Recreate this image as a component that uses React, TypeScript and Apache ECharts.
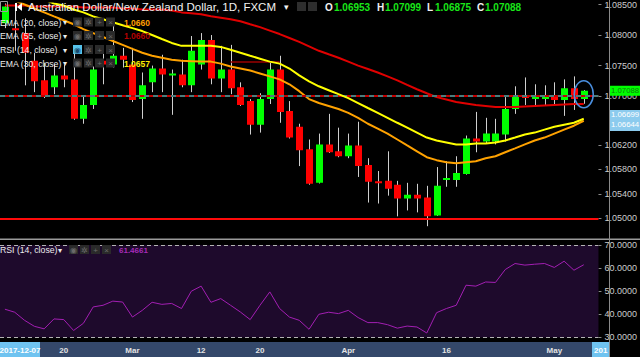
import React, { useEffect, useRef } from "react";
import * as echarts from "echarts";

const FONT = '"Liberation Sans", Arial, sans-serif';

const dates = [
  "2018-02-12", "2018-02-13", "2018-02-14", "2018-02-15", "2018-02-16", "2018-02-19", "2018-02-20", "2018-02-21", "2018-02-22", "2018-02-23",
  "2018-02-26", "2018-02-27", "2018-02-28", "2018-03-01", "2018-03-02", "2018-03-05", "2018-03-06", "2018-03-07", "2018-03-08", "2018-03-09",
  "2018-03-12", "2018-03-13", "2018-03-14", "2018-03-15", "2018-03-16", "2018-03-19", "2018-03-20", "2018-03-21", "2018-03-22", "2018-03-23",
  "2018-03-26", "2018-03-27", "2018-03-28", "2018-03-29", "2018-03-30", "2018-04-02", "2018-04-03", "2018-04-04", "2018-04-05", "2018-04-06",
  "2018-04-09", "2018-04-10", "2018-04-11", "2018-04-12", "2018-04-13", "2018-04-16", "2018-04-17", "2018-04-18", "2018-04-19", "2018-04-20",
  "2018-04-23", "2018-04-24", "2018-04-25", "2018-04-26", "2018-04-27", "2018-04-30", "2018-05-01", "2018-05-02", "2018-05-03", "2018-05-04",
  "",
];

const open = [
  1.08194, 1.08113, 1.08032, 1.07581, 1.07258, 1.07145, 1.07339, 1.07274, 1.06629, 1.06855,
  1.07581, 1.07516, 1.07661, 1.07516, 1.06952, 1.07226, 1.07452, 1.07363, 1.07355, 1.07177,
  1.07516, 1.07919, 1.0729, 1.07435, 1.07145, 1.06919, 1.06532, 1.06952, 1.07435, 1.06758,
  1.065, 1.06129, 1.05581, 1.0621, 1.06097, 1.06016, 1.06193, 1.05871, 1.05605, 1.05613,
  1.05548, 1.05323, 1.05387, 1.05339, 1.05048, 1.05629, 1.05629, 1.05726, 1.06306, 1.06258,
  1.06258, 1.06371, 1.0679, 1.07016, 1.06979, 1.06952, 1.07016, 1.06935, 1.07129, 1.06953,
];
const close = [
  1.08468, 1.08097, 1.0771, 1.07242, 1.06984, 1.07339, 1.07274, 1.06629, 1.06855, 1.07435,
  1.07516, 1.07661, 1.07597, 1.06935, 1.07177, 1.07452, 1.07355, 1.07371, 1.07177, 1.07742,
  1.07919, 1.0729, 1.07435, 1.07129, 1.06855, 1.06532, 1.06952, 1.07435, 1.06742, 1.06322,
  1.06113, 1.05565, 1.0621, 1.06081, 1.06016, 1.06193, 1.05855, 1.05597, 1.05597, 1.05484,
  1.05323, 1.05387, 1.05323, 1.05032, 1.05532, 1.05661, 1.05742, 1.06306, 1.06258, 1.06387,
  1.06387, 1.0679, 1.07016, 1.06968, 1.06984, 1.07016, 1.06935, 1.07129, 1.06952, 1.07088,
];
const low = [
  1.08113, 1.07742, 1.07177, 1.07065, 1.06968, 1.07032, 1.07145, 1.06613, 1.06548, 1.0679,
  1.07194, 1.07468, 1.07468, 1.06903, 1.06629, 1.07065, 1.07065, 1.06694, 1.07145, 1.07065,
  1.07435, 1.07194, 1.07065, 1.07032, 1.0684, 1.06371, 1.06403, 1.06871, 1.06564, 1.06306,
  1.05855, 1.0555, 1.0557, 1.0607, 1.06, 1.05984, 1.05677, 1.05258, 1.05242, 1.05371,
  1.05032, 1.05129, 1.05097, 1.04871, 1.0504, 1.05516, 1.05516, 1.05715, 1.06081, 1.06226,
  1.0621, 1.06258, 1.0671, 1.06855, 1.06823, 1.06855, 1.06871, 1.06677, 1.06774, 1.06875,
];
const high = [
  1.0853, 1.08435, 1.08274, 1.0771, 1.07548, 1.07516, 1.07516, 1.0771, 1.07016, 1.07484,
  1.07823, 1.08274, 1.0779, 1.0779, 1.07387, 1.075, 1.07677, 1.07435, 1.07597, 1.07984,
  1.08032, 1.08, 1.07823, 1.07839, 1.07226, 1.06952, 1.07048, 1.07548, 1.07661, 1.06919,
  1.06548, 1.0629, 1.06387, 1.0671, 1.06484, 1.06387, 1.06581, 1.05984, 1.05774, 1.06097,
  1.05613, 1.05581, 1.05565, 1.05532, 1.05839, 1.05935, 1.06016, 1.06355, 1.06742, 1.06645,
  1.06629, 1.06984, 1.07161, 1.07306, 1.07194, 1.07177, 1.07226, 1.07274, 1.07323, 1.07099,
];

const emaRed = [
  1.08484, 1.08484, 1.08484, 1.08468, 1.08468, 1.08468, 1.08468, 1.08468, 1.08451, 1.08451,
  1.08451, 1.08451, 1.08435, 1.08435, 1.08419, 1.08419, 1.08419, 1.08403, 1.08371, 1.08355,
  1.08339, 1.08306, 1.08282, 1.08258, 1.08226, 1.08177, 1.08129, 1.08073, 1.08016, 1.07952,
  1.07887, 1.07815, 1.07742, 1.07685, 1.07629, 1.07565, 1.075, 1.07444, 1.07387, 1.07323,
  1.07258, 1.07185, 1.07113, 1.07048, 1.06984, 1.06944, 1.06903, 1.06879, 1.06855, 1.06839,
  1.06823, 1.06823, 1.06823, 1.06831, 1.06839, 1.06847, 1.06855, 1.06863, 1.06871, 1.06871,
];
const emaYellow = [
  1.08871, 1.0879, 1.0871, 1.08645, 1.08581, 1.08516, 1.08484, 1.08419, 1.08371, 1.08306,
  1.08258, 1.0821, 1.08161, 1.08113, 1.08065, 1.08, 1.07935, 1.07871, 1.07823, 1.07823,
  1.07823, 1.07823, 1.07806, 1.07758, 1.0771, 1.07661, 1.07613, 1.07565, 1.07532, 1.07452,
  1.07339, 1.07242, 1.07161, 1.07097, 1.07032, 1.06968, 1.06887, 1.06806, 1.06726, 1.06645,
  1.06564, 1.06484, 1.06403, 1.06322, 1.06274, 1.06242, 1.0621, 1.0621, 1.06226, 1.06226,
  1.06242, 1.06274, 1.06322, 1.06371, 1.06403, 1.06452, 1.065, 1.06532, 1.06564, 1.06629,
];
const emaOrange = [
  1.08629, 1.08565, 1.085, 1.08435, 1.08371, 1.08306, 1.08242, 1.08177, 1.08097, 1.08032,
  1.07968, 1.07903, 1.07839, 1.07774, 1.0771, 1.07661, 1.07629, 1.07597, 1.07581, 1.07573,
  1.07565, 1.07565, 1.07532, 1.07484, 1.07452, 1.07419, 1.07371, 1.07323, 1.07274, 1.07194,
  1.07081, 1.06952, 1.06887, 1.06839, 1.0679, 1.06726, 1.06645, 1.06548, 1.06468, 1.06387,
  1.0629, 1.06193, 1.06097, 1.06, 1.05952, 1.05919, 1.05903, 1.05919, 1.05935, 1.05984,
  1.06016, 1.06081, 1.06145, 1.0621, 1.06274, 1.06322, 1.06387, 1.06452, 1.06516, 1.06597,
];

const rsi = [
  42.2, 40.9, 37.4, 34.8, 33.7, 38.0, 37.7, 33.0, 36.1, 43.2,
  43.9, 45.7, 45.3, 38.8, 41.7, 45.2, 44.3, 44.7, 42.5, 50.0,
  52.2, 45.2, 46.8, 43.9, 41.0, 37.7, 43.9, 49.7, 42.5, 38.8,
  37.4, 33.5, 40.0, 40.9, 40.3, 41.7, 38.6, 36.4, 36.4, 35.5,
  34.0, 34.9, 34.5, 31.9, 40.7, 42.5, 43.9, 52.6, 52.2, 54.0,
  53.8, 59.4, 62.0, 61.3, 61.7, 62.0, 60.3, 63.0, 59.1, 61.4661,
];

const priceTicks = [1.05, 1.054, 1.058, 1.062, 1.07, 1.075, 1.08, 1.085];
const rsiTicks = [30, 40, 50, 60, 70];
const timeTickIndex = [6, 13, 20, 26, 35, 45, 56];
const timeTickText = ["20", "Mar", "12", "20", "Apr", "16", "May"];
const redLevels = [1.06699, 1.05065];
const cyanLevel = 1.07274;
const boxLevel = 1.07565;
const lastClose = 1.07088;
const tagLevels = [1.06699, 1.06644];
const emaLegend = ["1.0660", "1.0660", "1.0657"];

const candleRows = open.map((o, i) => [i, o, close[i], low[i], high[i]]);

function renderCandle(params: any, api: any) {
  const i = api.value(0);
  const o = api.value(1);
  const c = api.value(2);
  const l = api.value(3);
  const h = api.value(4);
  const pO = api.coord([i, o]);
  const pC = api.coord([i, c]);
  const pL = api.coord([i, l]);
  const pH = api.coord([i, h]);
  const cx = Math.round(pO[0]);
  const up = c >= o;
  const top = Math.min(pO[1], pC[1]);
  const bh = Math.max(2, Math.abs(pO[1] - pC[1]));
  return {
    type: "group",
    children: [
      {
        type: "line",
        shape: { x1: cx + 0.5, y1: pH[1], x2: cx + 0.5, y2: pL[1] },
        style: { stroke: "#cfcfcf", lineWidth: 1 },
      },
      {
        type: "rect",
        shape: { x: cx - 3, y: top, width: 7, height: bh },
        style: { fill: up ? "#00ff00" : "#ff0000" },
      },
    ],
  };
}

function txt(text: string, x: number, y: number, fill: string, font: string, align = "left", z = 10) {
  return {
    type: "text",
    z,
    style: { text, x, y, fill, font, textAlign: align, textVerticalAlign: "middle", align, verticalAlign: "middle" },
  };
}

function icons(x0: number, y: number, highlight: boolean) {
  const glyphs = ["◉", "✲", "+", "×"];
  const out: any[] = [];
  glyphs.forEach((g, k) => {
    const x = x0 + k * 11;
    out.push({
      type: "rect",
      z: 10,
      shape: { x, y: y - 5, width: 9, height: 9 },
      style: { fill: k === 0 && highlight ? "#56c2ea" : "#2a2a2a" },
    });
    out.push(txt(g, x + 4.5, y, k === 0 && highlight ? "#1a4a70" : "#6a6a6a", `8px ${FONT}`, "center"));
  });
  return out;
}

export default function App() {
  const ref = useRef<HTMLDivElement>(null);
  useEffect(() => {
    const el = ref.current!;
    const chart = echarts.init(el, null, { renderer: "svg" });
    const option: any = {
      animation: false,
      backgroundColor: "#000000",
      grid: [
        { left: -2, right: 32, top: 0, height: 240 },
        { left: -2, right: 32, top: 241, height: 101 },
      ],
      xAxis: [
        {
          type: "category",
          gridIndex: 0,
          data: dates,
          boundaryGap: true,
          axisLine: { show: false },
          axisTick: { show: false },
          axisLabel: { show: false },
          splitLine: { show: false },
        },
        {
          type: "category",
          gridIndex: 1,
          data: dates,
          boundaryGap: true,
          axisLine: { show: false },
          axisTick: { show: false },
          splitLine: { show: false },
          axisLabel: {
            show: true,
            interval: (idx: number) => timeTickIndex.indexOf(idx) >= 0,
            formatter: (_v: string, idx: number) => {
              const k = timeTickIndex.indexOf(idx);
              return k >= 0 ? timeTickText[k] : "";
            },
            color: "#e4e4e4",
            fontWeight: "bold",
            fontSize: 8,
            fontFamily: FONT,
            margin: 4,
          },
        },
      ],
      yAxis: [
        {
          type: "value",
          gridIndex: 0,
          position: "right",
          min: 1.04645,
          max: 1.08516,
          axisLine: { show: false },
          splitLine: { show: false },
          axisTick: { show: true, length: 3, customValues: priceTicks, lineStyle: { color: "#8a8a8a" } },
          axisLabel: {
            customValues: priceTicks,
            formatter: (v: number) => v.toFixed(5),
            color: "#cccccc",
            fontSize: 9,
            fontFamily: FONT,
            margin: 6,
          },
        },
        {
          type: "value",
          gridIndex: 1,
          position: "right",
          min: 28,
          max: 71.75,
          axisLine: { show: false },
          splitLine: { show: false },
          axisTick: { show: true, length: 3, customValues: rsiTicks, lineStyle: { color: "#8a8a8a" } },
          axisLabel: {
            customValues: rsiTicks,
            formatter: (v: number) => v.toFixed(4),
            color: "#cccccc",
            fontSize: 9,
            fontFamily: FONT,
            margin: 6,
          },
        },
      ],
      series: [
        {
          type: "custom",
          name: "AUDNZD",
          xAxisIndex: 0,
          yAxisIndex: 0,
          data: candleRows,
          encode: { x: 0, y: [1, 2, 3, 4] },
          renderItem: renderCandle,
          clip: true,
          z: 3,
        },
        {
          type: "line",
          name: "EMA55",
          xAxisIndex: 0,
          yAxisIndex: 0,
          data: emaRed,
          showSymbol: false,
          symbol: "none",
          lineStyle: { color: "#e00000", width: 2 },
          z: 4,
          markLine: {
            silent: true,
            symbol: ["none", "none"],
            label: { show: false },
            data: [
              { yAxis: redLevels[0], lineStyle: { color: "#c40000", width: 2, type: "solid" } },
              { yAxis: redLevels[1], lineStyle: { color: "#ff0a0a", width: 2, type: "solid" } },
              { yAxis: cyanLevel, lineStyle: { color: "#22a6a6", width: 1.5, type: [5, 4] } },
              [
                { coord: [23, boxLevel], lineStyle: { color: "#9a0000", width: 1.5, type: "solid" } },
                { coord: [28, boxLevel] },
              ],
            ],
          },
        },
        {
          type: "line",
          name: "EMA20",
          xAxisIndex: 0,
          yAxisIndex: 0,
          data: emaOrange,
          showSymbol: false,
          symbol: "none",
          lineStyle: { color: "#ffa200", width: 2 },
          z: 4,
        },
        {
          type: "line",
          name: "EMA30",
          xAxisIndex: 0,
          yAxisIndex: 0,
          data: emaYellow,
          showSymbol: false,
          symbol: "none",
          lineStyle: { color: "#ffff00", width: 2 },
          z: 5,
        },
        {
          type: "line",
          name: "RSI",
          xAxisIndex: 1,
          yAxisIndex: 1,
          data: rsi,
          showSymbol: false,
          symbol: "none",
          lineStyle: { color: "#a31fb3", width: 1 },
          z: 4,
          markArea: {
            silent: true,
            itemStyle: { color: "#1e0a2c" },
            data: [[{ yAxis: 30 }, { yAxis: 70 }]],
          },
          markLine: {
            silent: true,
            symbol: ["none", "none"],
            label: { show: false },
            lineStyle: { color: "#b4b4b4", width: 1, type: [4, 3] },
            data: [{ yAxis: 70 }, { yAxis: 30 }],
          },
        },
      ],
    };
    chart.setOption(option);

    const py = (v: number) => chart.convertToPixel({ yAxisIndex: 0 } as any, v) as number;
    const lastPt = chart.convertToPixel({ xAxisIndex: 0, yAxisIndex: 0 } as any, [59, 1.07032]) as number[];
    const yClose = py(lastClose);
    const yTag = py(tagLevels[0]);

    const g: any[] = [];
    // time bar and separators
    g.push({ type: "rect", z: -1, shape: { x: 0, y: 342, width: 609, height: 15 }, style: { fill: "#34486a" } });
    g.push({ type: "rect", z: 10, shape: { x: 0, y: 238.5, width: 640, height: 1.5 }, style: { fill: "#9a9a9a" } });
    g.push({ type: "line", z: 10, shape: { x1: 609.5, y1: 0, x2: 609.5, y2: 357 }, style: { stroke: "#8a8a8a", lineWidth: 1 } });
    g.push({ type: "rect", z: 11, shape: { x: 0, y: 342, width: 40, height: 15 }, style: { fill: "#6fc3f0" } });
    g.push(txt("2017-12-07", 20, 350, "#ffffff", `bold 8px ${FONT}`, "center", 12));
    g.push({ type: "rect", z: 11, shape: { x: 592, y: 342, width: 17, height: 15 }, style: { fill: "#6fc3f0" } });
    g.push(txt("201", 594, 350, "#ffffff", `bold 8px ${FONT}`, "left", 12));

    // price tags
    g.push({ type: "rect", z: 11, shape: { x: 610, y: yClose - 5, width: 30, height: 10 }, style: { fill: "#00ff00" } });
    g.push(txt(lastClose.toFixed(5), 611, yClose, "#0d7d0d", `7.8px ${FONT}`, "left", 12));
    g.push({ type: "rect", z: 11, shape: { x: 610, y: yTag - 4.5, width: 30, height: 21 }, style: { fill: "#8ccbee" } });
    g.push(txt(tagLevels[0].toFixed(5), 611, yTag, "#ffffff", `7.8px ${FONT}`, "left", 12));
    g.push(txt(tagLevels[1].toFixed(5), 611, yTag + 10, "#ffffff", `7.8px ${FONT}`, "left", 12));

    // highlight ellipse
    g.push({
      type: "ellipse",
      z: 12,
      shape: { cx: lastPt[0], cy: lastPt[1], rx: 9.5, ry: 13.5 },
      style: { fill: "none", stroke: "#4a8fe0", lineWidth: 1.5 },
    });

    // title row
    g.push({ type: "rect", z: 10, shape: { x: 0.5, y: 1.5, width: 7, height: 10 }, style: { fill: "none", stroke: "#9a9a9a", lineWidth: 1 } });
    g.push({ type: "rect", z: 10, shape: { x: 15, y: 3, width: 2, height: 8 }, style: { fill: "#ffffff" } });
    g.push({ type: "polygon", z: 10, shape: { points: [[17, 7], [22, 3], [22, 11]] }, style: { fill: "#ffffff" } });
    g.push(txt("Australian Dollar/New Zealand Dollar, 1D, FXCM", 28, 7, "#f2f2f2", `11.5px ${FONT}`));
    g.push(txt("▾", 284, 7, "#f2f2f2", `9px ${FONT}`));
    g.push({ type: "rect", z: 10, shape: { x: 297, y: 2, width: 9, height: 9 }, style: { fill: "#2e2e2e" } });
    g.push({ type: "rect", z: 10, shape: { x: 308, y: 2, width: 9, height: 9 }, style: { fill: "#2e2e2e" } });
    const ohlcLetters = ["O", "H", "L", "C"];
    const ohlcValues = [open[59], high[59], low[59], close[59]];
    const ohlcX = [325, 377, 427, 477];
    ohlcLetters.forEach((l, k) => {
      g.push(txt(l, ohlcX[k], 7, "#f0f0f0", `bold 10px ${FONT}`));
      g.push(txt(ohlcValues[k].toFixed(5), ohlcX[k] + (l === "O" ? 9 : 8), 7, "#19e619", `bold 10px ${FONT}`));
    });

    // indicator legend rows
    const rows = [
      { label: "EMA (20, close)", y: 22.5, value: emaLegend[0], color: "#ff9f00", hl: false },
      { label: "EMA (55, close)", y: 36, value: emaLegend[1], color: "#b40000", hl: false },
      { label: "RSI (14, close)", y: 50, value: "", color: "#ffffff", hl: true },
      { label: "EMA (30, close)", y: 63.5, value: emaLegend[2], color: "#ffee00", hl: false },
    ];
    rows.forEach((r) => {
      g.push(txt(r.label, 0, r.y, "#ececec", `8.7px ${FONT}`));
      g.push(txt("▾", 63, r.y, "#ececec", `8px ${FONT}`));
      icons(73, r.y, r.hl).forEach((e) => g.push(e));
      if (r.value) g.push(txt(r.value, 124, r.y, r.color, `bold 8.5px ${FONT}`));
    });
    g.push(txt("RSI (14, close)", 0, 250, "#ececec", `8.7px ${FONT}`));
    g.push(txt("▾", 58, 250, "#ececec", `8px ${FONT}`));
    icons(69, 250, false).forEach((e) => g.push(e));
    g.push(txt(rsi[59].toFixed(4), 119, 250, "#a62bb8", `bold 8px ${FONT}`));

    chart.setOption({ graphic: g });
    return () => chart.dispose();
  }, []);
  return <div ref={ref} style={{ position: "fixed", left: 0, top: 0, width: 640, height: 357 }} />;
}
